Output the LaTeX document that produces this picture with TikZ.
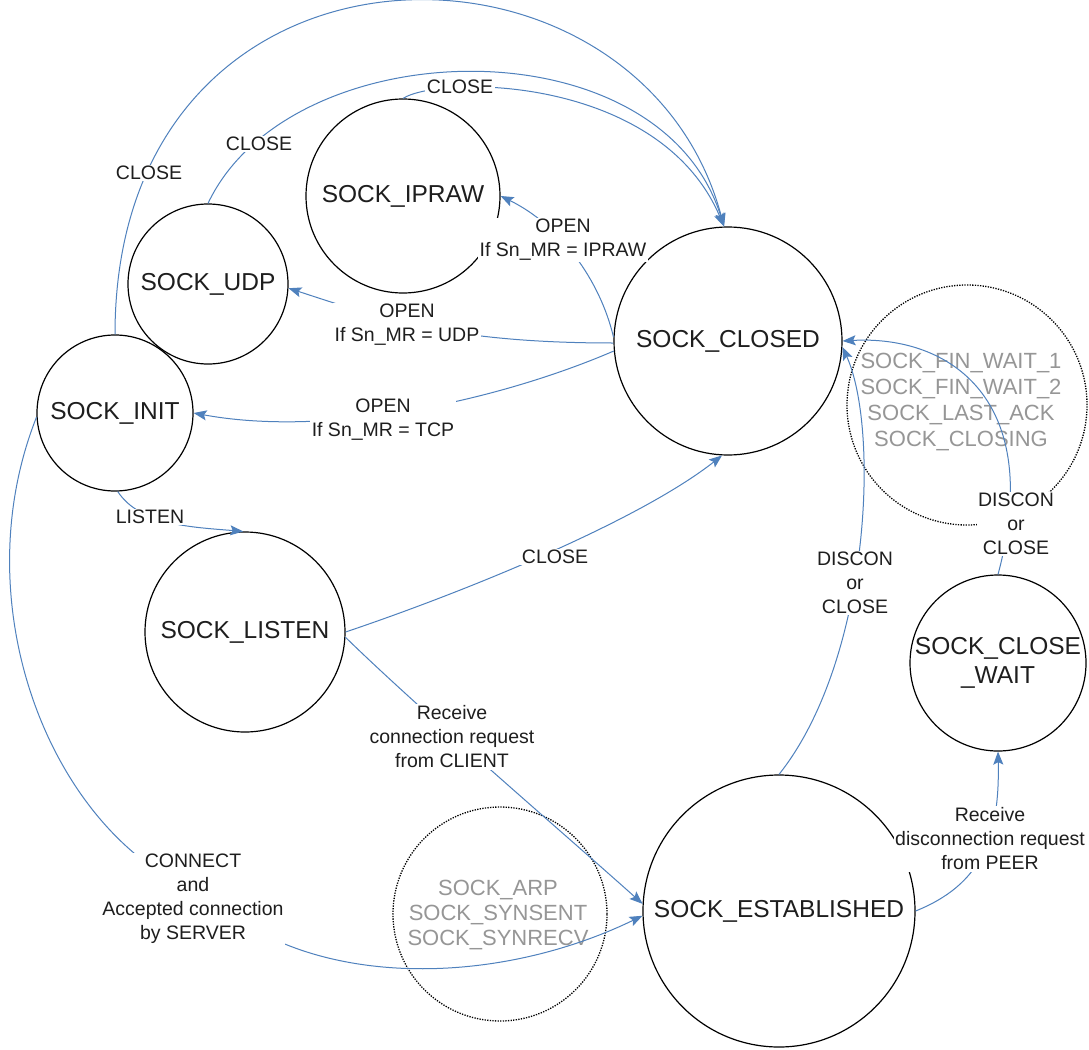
\documentclass[tikz,border=0pt]{standalone}
\usepackage{fontspec}
\setmainfont{Liberation Sans}
\usetikzlibrary{arrows.meta}
\definecolor{edgeblue}{RGB}{79,129,189}
\definecolor{txtgray}{RGB}{150,150,150}
\definecolor{txtdark}{RGB}{30,30,30}
\begin{document}
\begin{tikzpicture}[x=1pt,y=-1pt,
  st/.style={circle, draw=black, line width=1.2pt, inner sep=0pt},
  dst/.style={circle, draw=black, line width=1.3pt, dash pattern=on 1.3pt off 1.3pt, inner sep=0pt},
  sttxt/.style={font=\fontsize{24.5}{29}\selectfont, text=txtdark, align=center, inner sep=0pt},
  grtxt/.style={font=\fontsize{22}{26}\selectfont, text=txtgray, align=center, inner sep=0pt},
  grtxtb/.style={font=\fontsize{22}{25}\selectfont, text=txtgray, align=center, inner sep=0pt},
  elab/.style={font=\fontsize{19.5}{24}\selectfont, text=txtdark, align=center, fill=white, inner sep=1.5pt},
  conn/.style={draw=edgeblue, line width=1pt, -{Stealth[length=13pt,width=10pt,inset=2.5pt]}},
]
\fill[white] (0,0) rectangle (1089,1049);
\useasboundingbox (0,0) rectangle (1089,1049);

% states
\node[st, minimum size=194pt] (ipraw) at (403,196) {};
\node[st, minimum size=160pt] (udp) at (208,284) {};
\node[st, minimum size=156pt] (init) at (115,413) {};
\node[st, minimum size=228pt] (closed) at (728,341) {};
\node[dst, minimum size=240pt] (fin) at (967,405) {};
\node[st, minimum size=200pt] (listen) at (245,632) {};
\node[st, minimum size=272pt] (est) at (779,911) {};
\node[dst, minimum size=214pt] (arp) at (500,914) {};
\node[st, minimum size=176pt] (cw) at (998,663) {};

\node[sttxt] (iprawT) at (ipraw) {SOCK\_IPRAW};
\node[sttxt] (udpT) at (udp) {SOCK\_UDP};
\node[sttxt] (initT) at (init) {SOCK\_INIT};
\node[sttxt] (closedT) at (closed) {SOCK\_CLOSED};
\node[grtxt] (finT) at (961,402) {SOCK\_FIN\_WAIT\_1\\SOCK\_FIN\_WAIT\_2\\SOCK\_LAST\_ACK\\SOCK\_CLOSING};
\node[sttxt] (listenT) at (listen) {SOCK\_LISTEN};
\node[sttxt] (estT) at (est) {SOCK\_ESTABLISHED};
\node[grtxtb] (arpT) at (498,915) {SOCK\_ARP\\SOCK\_SYNSENT\\SOCK\_SYNRECV};
\node[sttxt] (cwT) at (cw) {SOCK\_CLOSE\\\_WAIT};

% connectors
\draw[conn] (init.90) .. controls (115,-90) and (640,-90) .. (closed.92);
\draw[conn] (udp.90) .. controls (290,30) and (660,20) .. (closed.92);
\draw[conn] (ipraw.90) .. controls (440,75) and (660,75) .. (closed.92);
\draw[conn] (closed.178) .. controls (600,280) and (560,225) .. (ipraw.east);
\draw[conn] (closed.181) .. controls (450,343) and (380,318) .. (udp.-3);
\draw[conn] (closed.185) .. controls (500,400) and (330,438) .. (init.east);
\draw[conn] (init.272) .. controls (140,525) and (190,527) .. (listen.91);
\draw[conn] (listen.east) .. controls (470,590) and (640,520) .. (closed.267);
\draw[conn] (listen.-3) .. controls (420,710) and (560,830) .. (est.177.5);
\draw[conn] (init.183) .. controls (-28,580) and (30,770) .. (140,858) -- (280,942) .. controls (380,985) and (520,975) .. (est.182.5);
\draw[conn] (est.90) .. controls (870,660) and (880,430) .. (closed.-3);
\draw[conn] (cw.90) .. controls (1045,400) and (950,335) .. (closed.0);
\draw[conn] (est.0) .. controls (980,885) and (1000,840) .. (cw.south);

% labels
\node[elab] (l1) at (149,173) {CLOSE};
\node[elab] (l2) at (259,144) {CLOSE};
\node[elab] (l3) at (460,87) {CLOSE};
\node[elab] (l4) at (563,240) {OPEN\\If Sn\_MR = IPRAW};
\node[elab] (l5) at (407,325) {OPEN\\If Sn\_MR = UDP};
\node[elab] (l6) at (383,420) {OPEN\\If Sn\_MR = TCP};
\node[elab] (l7) at (150,517) {LISTEN};
\node[elab] (l8) at (555,557) {CLOSE};
\node[elab] (l9) at (452,737) {Receive\\connection request\\from CLIENT};
\node[elab] (l10) at (193,899) {CONNECT\\and\\Accepted connection\\by SERVER};
\node[elab] (l11) at (855,583) {DISCON\\or\\CLOSE};
\node[elab] (l12) at (1016,524) {DISCON\\or\\CLOSE};
\node[elab] (l13) at (990,839) {Receive\\disconnection request\\from PEER};
\end{tikzpicture}
\end{document}
